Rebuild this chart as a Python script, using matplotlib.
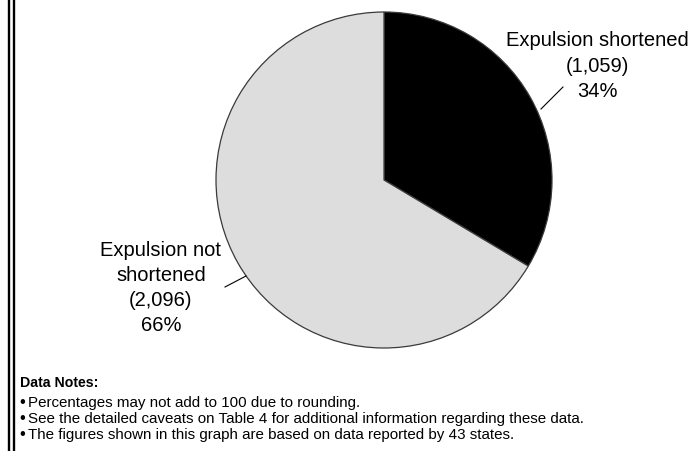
import matplotlib
matplotlib.use("Agg")
import matplotlib.pyplot as plt
from matplotlib.lines import Line2D

# Data
categories = ["Expulsion shortened", "Expulsion not\nshortened"]
counts = [1059, 2096]
percent_labels = ["34%", "66%"]
notes_title = "Data Notes:"
notes = [
    "Percentages may not add to 100 due to rounding.",
    "See the detailed caveats on Table 4 for additional information regarding these data.",
    "The figures shown in this graph are based on data reported by 43 states.",
]

W, H = 698, 452
fig = plt.figure(figsize=(W / 100, H / 100), dpi=100)
fig.patch.set_facecolor("white")
plt.rcParams["font.family"] = ["Liberation Sans", "DejaVu Sans"]

# pie geometry in pixels
cx, cy, r = 384, 181, 168
ax = fig.add_axes([(cx - r) / W, (H - cy - r) / H, 2 * r / W, 2 * r / H])
ax.set_aspect("equal")
ax.axis("off")

wedges, _ = ax.pie(
    counts,
    colors=["#000000", "#dddddd"],
    startangle=90,
    counterclock=False,
    radius=1.0,
    wedgeprops=dict(edgecolor="#3a3a3a", linewidth=0.9),
)
ax.set_xlim(-1, 1)
ax.set_ylim(-1, 1)


def px(x, y):
    """pixel position -> data coords of the pie axes"""
    return (x - cx) / r, (cy - y) / r


# labels with leader lines
label_specs = [
    (0, (597, 66), (541, 110), (563, 88)),
    (1, (161, 288), (246, 277), (225, 288)),
]
for i, (tx, ty), (ax0, ay0), (ax1, ay1) in label_specs:
    text = f"{categories[i]}\n({counts[i]:,})\n{percent_labels[i]}"
    ax.text(*px(tx, ty), text, ha="center", va="center", fontsize=14.5,
            linespacing=1.42, clip_on=False)
    x0, y0 = px(ax0, ay0)
    x1, y1 = px(ax1, ay1)
    ax.plot([x0, x1], [y0, y1], color="#000000", lw=0.8, clip_on=False)

# notes block
fig.text(20 / W, 1 - 383 / H, notes_title, fontsize=10.2, fontweight="bold",
         va="center", ha="left")
for k, line in enumerate(notes):
    base = 1 - (407 + 16 * k) / H
    fig.text(19 / W, base, "\u2022", fontsize=12, va="baseline", ha="left")
    fig.text(28 / W, base, line, fontsize=10.9, va="baseline", ha="left")

# double rule along the left edge
for xp in (9, 14):
    fig.add_artist(Line2D([xp / W, xp / W], [0, 1], color="black", lw=1.7,
                          transform=fig.transFigure))

fig.savefig("out.png", dpi=100)
